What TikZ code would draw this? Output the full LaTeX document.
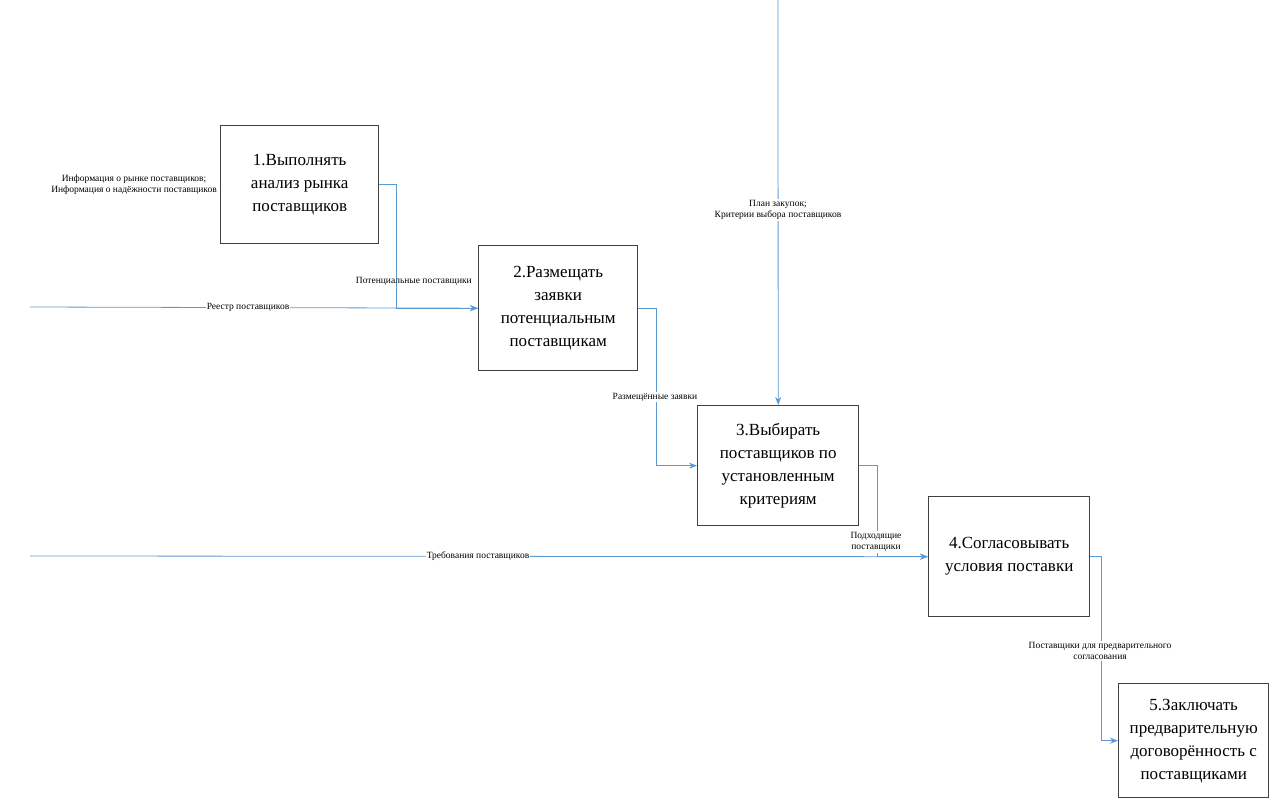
\documentclass[tikz,border=0pt]{standalone}
\usepackage{fontspec}
\setmainfont{Liberation Serif}
\usepackage{tikz}
\usepackage{color}
\usetikzlibrary{positioning, arrows.meta}

\definecolor{flowblue}{RGB}{91,155,213}

\begin{document}
\begin{tikzpicture}[x=1pt, y=-1pt,
						block/.style={rectangle, draw=black!75, line width=1.4pt, fill=white, align=center, inner sep=2pt, font=\rmfamily\fontsize{17}{23}\selectfont},
						note/.style={rectangle, align=center, inner sep=1pt, font=\rmfamily\fontsize{9.5}{11}\selectfont},
						onwire/.style={note, fill=white},
						flow/.style={draw=flowblue, line width=0.8pt}
					]
					\useasboundingbox (0,0) rectangle (1270,799);
					\node[block, minimum width=158pt, minimum height=118pt, anchor=north west] (act1) at (220,125) {1.Выполнять\\анализ рынка\\поставщиков};
					\node[block, minimum width=159pt, minimum height=125pt, anchor=north west] (act2) at (478,245) {2.Размещать\\заявки\\потенциальным\\поставщикам};
					\node[block, minimum width=161pt, minimum height=120pt, anchor=north west] (act3) at (697,405) {3.Выбирать\\поставщиков по\\установленным\\критериям};
					\node[block, minimum width=161pt, minimum height=120pt, anchor=north west] (act4) at (928,496) {4.Согласовывать\\условия поставки};
					\node[block, minimum width=150pt, minimum height=114pt, anchor=north west] (act5) at (1118,683) {5.Заключать\\предварительную\\договорённость с\\поставщиками};
					\coordinate (reestr) at (30,307);
					\coordinate (treb) at (30,556);
					\coordinate (plan) at (778,0);
					\node[note] (info) [left=2pt of act1.west] {Информация о рынке поставщиков;\\Информация о надёжности поставщиков};
					\begin{scope}[flow, -{Stealth[length=8pt, width=6pt]}]
					\draw (act1.east) -- ++(17,0) |- (act2.west);
					\draw (reestr) -- (act2.west);
					\draw (act2.east) -- ++(18,0) |- (act3.west);
					\draw (plan) -- (act3.north);
					\draw (act3.east) -- ++(18,0) |- (act4.west);
					\draw (treb) -- (act4.west);
					\draw (act4.east) -- ++(11,0) |- (act5.west);
					\end{scope}
					\node[note, anchor=east] (potent) at (473,281) {Потенциальные поставщики};
					\node[onwire] (reestrl) at (248,307) {Реестр поставщиков};
					\node[onwire] (planl) at (778,210) {План закупок;\\Критерии выбора поставщиков};
					\node[onwire] (razm) at (655,397) {Размещённые заявки};
					\node[onwire] (podh) at (876,542) {Подходящие\\поставщики};
					\node[onwire] (trebl) at (478,556) {Требования поставщиков};
					\node[onwire] (dlyal) at (1100,651) {Поставщики для предварительного\\согласования};
					\end{tikzpicture}
\end{document}
